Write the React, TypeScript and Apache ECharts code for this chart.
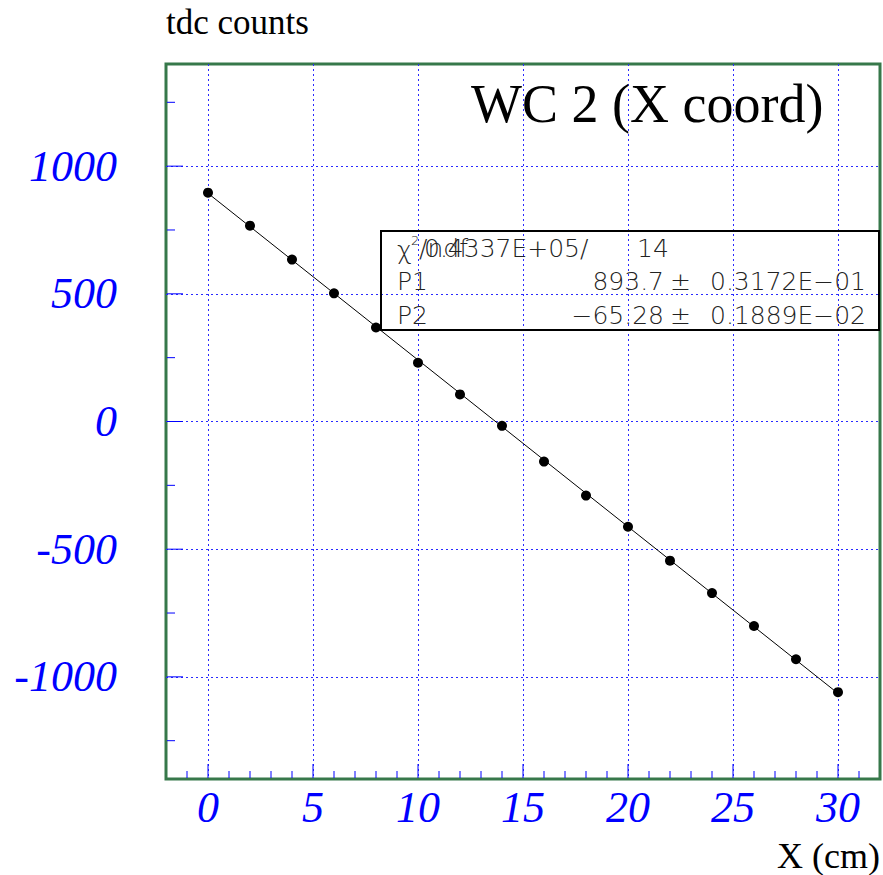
import React, { useEffect, useRef } from "react";
import * as echarts from "echarts";

// Measured positions along the chamber (cm) and the TDC response
const positions = [0, 2, 4, 6, 8, 10, 12, 14, 16, 18, 20, 22, 24, 26, 28, 30];
const tdcCounts = [896, 767, 634, 502, 368, 230, 106, -17, -157, -290, -412, -545, -672, -801, -931, -1060];

// Straight-line fit parameters (p0 + p1 * x) as printed in the stats box
const fitP1 = 893.7;
const fitP2 = -65.28;
const fitRange = [0, 30];

// Axis extents and tick positions
const X_MIN = -2;
const X_MAX = 32;
const Y_MIN = -1400;
const Y_MAX = 1400;
const xMajorTicks = [0, 5, 10, 15, 20, 25, 30];
const xMinorTicks = [-1, 1, 2, 3, 4, 6, 7, 8, 9, 11, 12, 13, 14, 16, 17, 18, 19, 21, 22, 23, 24, 26, 27, 28, 29, 31];
const yMajorTicks = [-1000, -500, 0, 500, 1000];
const yMinorTicks = [-1250, -750, -250, 250, 750, 1250];

const SERIF = "'Liberation Serif', 'Times New Roman', serif";
const SANS = "'DejaVu Sans', 'Liberation Sans', sans-serif";
const BLUE = "#0000ff";
const FRAME = "#37784a";
const GRID_BLUE = "#2a2aff";

export default function App() {
  const ref = useRef<HTMLDivElement>(null);

  useEffect(() => {
    if (!ref.current) return;
    const chart = echarts.init(ref.current, null, { renderer: "svg" });

    const fitLine = fitRange.map((x) => [x, fitP1 + fitP2 * x]);

    const xTickData = [
      ...xMajorTicks.map((v) => [v, Y_MIN, 1]),
      ...xMinorTicks.map((v) => [v, Y_MIN, 0]),
    ];
    const yTickData = [
      ...yMajorTicks.map((v) => [X_MIN, v, 1]),
      ...yMinorTicks.map((v) => [X_MIN, v, 0]),
    ];

    const statsText = (text: string, x: number, y: number, align = "left", size = 25) => ({
      type: "text",
      x,
      y,
      z: 100,
      style: {
        text,
        fill: "#222",
        font: `200 ${size}px ${SANS}`,
        align,
        verticalAlign: "middle",
      },
    });

    chart.setOption({
      animation: false,
      backgroundColor: "#fff",
      grid: {
        left: 166,
        top: 64,
        width: 714,
        height: 715,
        show: true,
        borderColor: FRAME,
        borderWidth: 3,
        backgroundColor: "transparent",
      },
      xAxis: {
        type: "value",
        min: X_MIN,
        max: X_MAX,
        splitNumber: 5,
        axisLine: { show: false },
        axisTick: { show: false },
        axisLabel: {
          color: BLUE,
          fontFamily: SERIF,
          fontStyle: "italic",
          fontSize: 44,
          margin: 28,
          verticalAlign: "middle",
          showMinLabel: false,
          showMaxLabel: false,
          formatter: (v: number) => (v % 5 === 0 ? String(v) : ""),
        },
        splitLine: {
          show: true,
          showMinLine: false,
          showMaxLine: false,
          lineStyle: { color: GRID_BLUE, width: 1, type: [2, 3] },
        },
      },
      yAxis: {
        type: "value",
        min: Y_MIN,
        max: Y_MAX,
        splitNumber: 5,
        axisLine: { show: false },
        axisTick: { show: false },
        axisLabel: {
          color: BLUE,
          fontFamily: SERIF,
          fontStyle: "italic",
          fontSize: 44,
          margin: 49,
          align: "right",
          verticalAlign: "middle",
          showMinLabel: false,
          showMaxLabel: false,
          formatter: (v: number) => (v % 500 === 0 ? String(v) : ""),
        },
        splitLine: {
          show: true,
          showMinLine: false,
          showMaxLine: false,
          lineStyle: { color: GRID_BLUE, width: 1, type: [2, 3] },
        },
      },
      series: [
        {
          type: "custom",
          silent: true,
          clip: false,
          z: 5,
          encode: { x: 0, y: 1 },
          data: xTickData,
          renderItem: (params: any, api: any) => {
            const p = api.coord([api.value(0), api.value(1)]);
            const len = api.value(2) ? 15 : 8;
            return {
              type: "line",
              shape: { x1: p[0], y1: p[1] - 1, x2: p[0], y2: p[1] - len },
              style: { stroke: BLUE, lineWidth: 1 },
            };
          },
        },
        {
          type: "custom",
          silent: true,
          clip: false,
          z: 5,
          encode: { x: 0, y: 1 },
          data: yTickData,
          renderItem: (params: any, api: any) => {
            const p = api.coord([api.value(0), api.value(1)]);
            const len = api.value(2) ? 17 : 9;
            return {
              type: "line",
              shape: { x1: p[0] + 1, y1: p[1], x2: p[0] + len, y2: p[1] },
              style: { stroke: BLUE, lineWidth: 1 },
            };
          },
        },
        {
          type: "line",
          data: fitLine,
          showSymbol: false,
          symbol: "none",
          lineStyle: { color: "#000", width: 1 },
          z: 6,
        },
        {
          type: "scatter",
          data: positions.map((x, i) => [x, tdcCounts[i]]),
          symbol: "circle",
          symbolSize: 10,
          itemStyle: { color: "#000", opacity: 1 },
          z: 7,
        },
      ],
      graphic: [
        {
          type: "text",
          x: 166,
          y: 22,
          style: {
            text: "tdc counts",
            fill: "#000",
            font: `35px ${SERIF}`,
            align: "left",
            verticalAlign: "middle",
          },
        },
        {
          type: "text",
          x: 880,
          y: 856,
          style: {
            text: "X (cm)",
            fill: "#000",
            font: `36px ${SERIF}`,
            align: "right",
            verticalAlign: "middle",
          },
        },
        {
          type: "text",
          x: 471,
          y: 104,
          z: 100,
          style: {
            text: "WC 2 (X coord)",
            fill: "#000",
            font: `54px ${SERIF}`,
            align: "left",
            verticalAlign: "middle",
          },
        },
        {
          type: "rect",
          z: 99,
          shape: { x: 381, y: 231, width: 498, height: 99 },
          style: { fill: "transparent", stroke: "#000", lineWidth: 2 },
        },
        statsText("χ", 397, 250),
        statsText("2", 411, 240, "left", 13),
        statsText("/ndf", 419, 248),
        statsText("0.4337E+05/", 424, 248),
        statsText("14", 637, 248),
        statsText("P1", 397, 281),
        statsText("893.7", 664, 281, "right"),
        statsText("±", 670, 281),
        statsText("0.3172E−01", 710, 281),
        statsText("P2", 397, 315),
        statsText("−65.28", 664, 315, "right"),
        statsText("±", 670, 315),
        statsText("0.1889E−02", 710, 315),
      ],
    });

    return () => chart.dispose();
  }, []);

  return (
    <div
      ref={ref}
      style={{ position: "fixed", left: 0, top: 0, width: 883, height: 875 }}
    />
  );
}
